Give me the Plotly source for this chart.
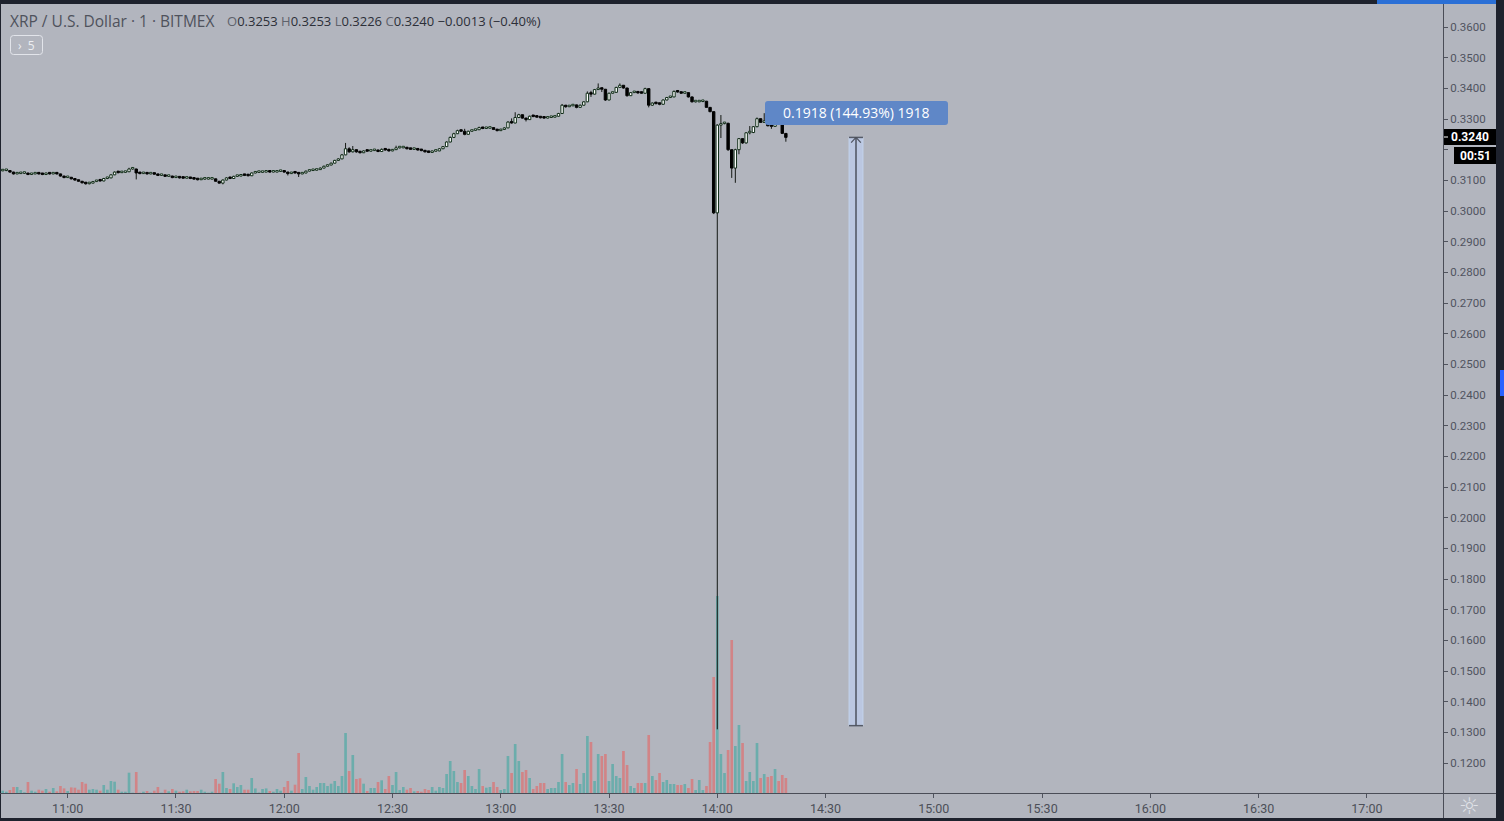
import plotly.graph_objects as go
import pandas as pd

# ---------------- data (1-minute XRP/USD candles, BITMEX) ----------------
opens = [
0.3130,0.3131,0.3132,0.3132,0.3127,0.3121,0.3122,0.3123,0.3123,0.3119,
0.3121,0.3122,0.3121,0.3119,0.3122,0.3121,0.3123,0.3121,0.3114,0.3109,
0.3110,0.3105,0.3101,0.3097,0.3092,0.3089,0.3091,0.3096,0.3099,0.3098,
0.3106,0.3108,0.3118,0.3127,0.3125,0.3126,0.3128,0.3137,0.3137,0.3124,
0.3122,0.3123,0.3121,0.3122,0.3120,0.3116,0.3117,0.3113,0.3114,0.3109,
0.3110,0.3108,0.3107,0.3109,0.3106,0.3104,0.3102,0.3104,0.3104,0.3104,
0.3105,0.3097,0.3091,0.3101,0.3108,0.3106,0.3113,0.3114,0.3118,0.3116,
0.3115,0.3124,0.3126,0.3126,0.3127,0.3129,0.3127,0.3127,0.3129,0.3130,
0.3127,0.3122,0.3125,0.3124,0.3121,0.3124,0.3130,0.3132,0.3133,0.3135,
0.3140,0.3146,0.3150,0.3156,0.3165,0.3170,0.3183,0.3203,0.3193,0.3200,
0.3193,0.3190,0.3196,0.3195,0.3197,0.3199,0.3194,0.3201,0.3199,0.3196,
0.3200,0.3206,0.3206,0.3207,0.3203,0.3201,0.3201,0.3199,0.3197,0.3193,
0.3191,0.3195,0.3196,0.3203,0.3210,0.3225,0.3240,0.3252,0.3262,0.3260,
0.3250,0.3260,0.3263,0.3265,0.3272,0.3269,0.3270,0.3272,0.3266,0.3262,
0.3266,0.3271,0.3290,0.3287,0.3305,0.3314,0.3303,0.3298,0.3309,0.3308,
0.3306,0.3304,0.3303,0.3305,0.3306,0.3309,0.3318,0.3345,0.3340,0.3343,
0.3346,0.3338,0.3345,0.3356,0.3384,0.3381,0.3396,0.3400,0.3397,0.3362,
0.3384,0.3387,0.3403,0.3410,0.3401,0.3376,0.3386,0.3388,0.3385,0.3384,
0.3399,0.3345,0.3352,0.3350,0.3348,0.3362,0.3370,0.3372,0.3390,0.3388,
0.3384,0.3386,0.3372,0.3356,0.3356,0.3357,0.3358,0.3338,0.3324,0.2994,
0.3280,0.3285,0.3286,0.3200,0.3140,0.3200,0.3236,0.3222,0.3255,0.3256,
0.3275,0.3301,0.3289,0.3294,0.3278,0.3276,0.3297,0.3290,0.3253]

highs = [
0.3133,0.3134,0.3134,0.3133,0.3128,0.3124,0.3125,0.3124,0.3124,0.3123,
0.3124,0.3123,0.3122,0.3125,0.3123,0.3126,0.3124,0.3122,0.3115,0.3112,
0.3111,0.3106,0.3102,0.3098,0.3093,0.3093,0.3098,0.3101,0.3100,0.3108,
0.3110,0.3120,0.3129,0.3128,0.3128,0.3130,0.3141,0.3139,0.3138,0.3125,
0.3125,0.3124,0.3124,0.3123,0.3121,0.3119,0.3118,0.3116,0.3115,0.3112,
0.3111,0.3109,0.3111,0.3110,0.3107,0.3105,0.3106,0.3105,0.3106,0.3107,
0.3106,0.3098,0.3103,0.3110,0.3109,0.3115,0.3116,0.3120,0.3119,0.3117,
0.3126,0.3128,0.3128,0.3129,0.3131,0.3130,0.3129,0.3131,0.3132,0.3131,
0.3128,0.3127,0.3126,0.3126,0.3126,0.3132,0.3134,0.3135,0.3137,0.3142,
0.3148,0.3152,0.3158,0.3167,0.3172,0.3186,0.3222,0.3208,0.3212,0.3201,
0.3195,0.3198,0.3197,0.3199,0.3201,0.3200,0.3204,0.3202,0.3203,0.3202,
0.3213,0.3208,0.3209,0.3208,0.3204,0.3203,0.3202,0.3200,0.3198,0.3194,
0.3197,0.3198,0.3205,0.3212,0.3227,0.3243,0.3255,0.3265,0.3264,0.3268,
0.3262,0.3265,0.3267,0.3275,0.3273,0.3272,0.3274,0.3273,0.3267,0.3268,
0.3273,0.3293,0.3302,0.3322,0.3317,0.3315,0.3304,0.3311,0.3311,0.3309,
0.3307,0.3305,0.3307,0.3308,0.3311,0.3320,0.3349,0.3346,0.3345,0.3348,
0.3347,0.3347,0.3358,0.3390,0.3392,0.3398,0.3416,0.3402,0.3398,0.3386,
0.3389,0.3405,0.3416,0.3411,0.3402,0.3388,0.3390,0.3389,0.3386,0.3402,
0.3400,0.3354,0.3353,0.3351,0.3364,0.3372,0.3374,0.3393,0.3391,0.3389,
0.3388,0.3387,0.3373,0.3358,0.3359,0.3360,0.3359,0.3339,0.3326,0.3283,
0.3313,0.3288,0.3288,0.3202,0.3203,0.3238,0.3238,0.3257,0.3277,0.3277,
0.3305,0.3302,0.3319,0.3296,0.3279,0.3299,0.3298,0.3291,0.3253]

lows = [
0.3128,0.3130,0.3130,0.3125,0.3119,0.3120,0.3121,0.3121,0.3117,0.3118,
0.3120,0.3119,0.3117,0.3118,0.3119,0.3120,0.3119,0.3112,0.3107,0.3108,
0.3103,0.3099,0.3095,0.3090,0.3086,0.3087,0.3090,0.3095,0.3096,0.3097,
0.3104,0.3107,0.3117,0.3123,0.3124,0.3125,0.3127,0.3135,0.3103,0.3120,
0.3121,0.3119,0.3120,0.3118,0.3114,0.3115,0.3111,0.3112,0.3107,0.3108,
0.3106,0.3105,0.3106,0.3104,0.3102,0.3100,0.3101,0.3102,0.3103,0.3103,
0.3095,0.3089,0.3087,0.3100,0.3104,0.3105,0.3111,0.3113,0.3114,0.3113,
0.3114,0.3123,0.3124,0.3125,0.3126,0.3125,0.3126,0.3126,0.3128,0.3125,
0.3116,0.3121,0.3122,0.3111,0.3120,0.3123,0.3129,0.3131,0.3132,0.3134,
0.3139,0.3145,0.3149,0.3155,0.3164,0.3169,0.3182,0.3190,0.3191,0.3190,
0.3188,0.3189,0.3193,0.3194,0.3196,0.3192,0.3193,0.3197,0.3194,0.3195,
0.3199,0.3204,0.3205,0.3201,0.3199,0.3200,0.3197,0.3195,0.3191,0.3189,
0.3190,0.3194,0.3195,0.3202,0.3209,0.3224,0.3238,0.3251,0.3258,0.3247,
0.3249,0.3259,0.3262,0.3264,0.3267,0.3268,0.3269,0.3264,0.3260,0.3261,
0.3265,0.3270,0.3285,0.3286,0.3303,0.3301,0.3292,0.3297,0.3306,0.3304,
0.3302,0.3301,0.3302,0.3304,0.3305,0.3308,0.3317,0.3337,0.3339,0.3342,
0.3335,0.3337,0.3344,0.3355,0.3372,0.3380,0.3395,0.3388,0.3359,0.3361,
0.3383,0.3386,0.3402,0.3399,0.3373,0.3375,0.3385,0.3383,0.3382,0.3383,
0.3338,0.3343,0.3348,0.3345,0.3347,0.3361,0.3369,0.3371,0.3386,0.3382,
0.3383,0.3370,0.3354,0.3354,0.3355,0.3355,0.3336,0.3322,0.2990,0.1310,
0.3238,0.3283,0.3196,0.3108,0.3092,0.3185,0.3219,0.3220,0.3250,0.3254,
0.3273,0.3287,0.3288,0.3276,0.3268,0.3275,0.3288,0.3251,0.3226]

closes = [
0.3131,0.3132,0.3132,0.3127,0.3121,0.3122,0.3123,0.3123,0.3119,0.3121,
0.3122,0.3121,0.3119,0.3122,0.3121,0.3123,0.3121,0.3114,0.3109,0.3110,
0.3105,0.3101,0.3097,0.3092,0.3089,0.3091,0.3096,0.3099,0.3098,0.3106,
0.3108,0.3118,0.3127,0.3125,0.3126,0.3128,0.3137,0.3137,0.3124,0.3122,
0.3123,0.3121,0.3122,0.3120,0.3116,0.3117,0.3113,0.3114,0.3109,0.3110,
0.3108,0.3107,0.3109,0.3106,0.3104,0.3102,0.3104,0.3104,0.3104,0.3105,
0.3097,0.3091,0.3101,0.3108,0.3106,0.3113,0.3114,0.3118,0.3116,0.3115,
0.3124,0.3126,0.3126,0.3127,0.3129,0.3127,0.3127,0.3129,0.3130,0.3127,
0.3122,0.3125,0.3124,0.3121,0.3124,0.3130,0.3132,0.3133,0.3135,0.3140,
0.3146,0.3150,0.3156,0.3165,0.3170,0.3183,0.3203,0.3193,0.3200,0.3193,
0.3190,0.3196,0.3195,0.3197,0.3199,0.3194,0.3201,0.3199,0.3196,0.3200,
0.3206,0.3206,0.3207,0.3203,0.3201,0.3201,0.3199,0.3197,0.3193,0.3191,
0.3195,0.3196,0.3203,0.3210,0.3225,0.3240,0.3252,0.3262,0.3260,0.3250,
0.3260,0.3263,0.3265,0.3272,0.3269,0.3270,0.3272,0.3266,0.3262,0.3266,
0.3271,0.3290,0.3287,0.3305,0.3314,0.3303,0.3298,0.3309,0.3308,0.3306,
0.3304,0.3303,0.3305,0.3306,0.3309,0.3318,0.3345,0.3340,0.3343,0.3346,
0.3338,0.3345,0.3356,0.3384,0.3381,0.3396,0.3400,0.3397,0.3362,0.3384,
0.3387,0.3403,0.3410,0.3401,0.3376,0.3386,0.3388,0.3385,0.3384,0.3399,
0.3345,0.3352,0.3350,0.3348,0.3362,0.3370,0.3372,0.3390,0.3388,0.3384,
0.3386,0.3372,0.3356,0.3356,0.3357,0.3358,0.3338,0.3324,0.2994,0.3280,
0.3285,0.3286,0.3200,0.3140,0.3200,0.3236,0.3222,0.3255,0.3256,0.3275,
0.3301,0.3289,0.3294,0.3278,0.3276,0.3297,0.3290,0.3253,0.3240]

volumes = [
1,2.3,1.3,3,6,6,3,0.7,11,2.3,
1.3,3.3,2.3,4,1.3,5,1.7,7,4.6,2,
5.6,5.3,3.3,11,9.3,3.3,4,3.3,2.3,8,
3.3,12,11.3,3.3,1.3,1.3,20.3,0.3,21,0.3,
1.3,2,0.3,2.3,6,0.3,3.3,1.7,4,2.3,
1.3,1.7,3.3,1.7,2,2,3.3,1.3,0.3,1.3,
14,9.3,21,5,4,9.7,6,8,3.3,3.3,
15,4.6,0.5,4,4.6,2,1.3,4,2.3,6,
12,2.3,8.3,40,4,16,7,3.3,6,10,
10,7,9.3,12,7,17,60,22,38,14,
14.7,9.3,2,5,5,11,12.7,4,17,8,
21,3,6,3.3,5,1.7,2,1.3,4,3,
6,2.3,6,5,19,32,22,11,10,23,
17,7,4,24,7,5.3,6,11,6,3,
4,37,20,49,32,21,23,15,4,7,
10,10,4,5,5,11,39,11,8,10,
24,9,20,57,51,12,39,37,39,12,
29,17,15,42,28,7,5,10,10,10,
58,17,13,20,11,13,9,9,8,8,
9,5,14,3,13,3,7,51,116,197,
39,20,43,153,47,68,50,12,21,12,
50,15,19,16,17,24,12,18,15]

time_tick_labels = ["11:00", "11:30", "12:00", "12:30", "13:00", "13:30",
                    "14:00", "14:30", "15:00", "15:30", "16:00", "16:30", "17:00"]
price_ticks = [0.12, 0.13, 0.14, 0.15, 0.16, 0.17, 0.18, 0.19, 0.20, 0.21, 0.22, 0.23,
               0.24, 0.25, 0.26, 0.27, 0.28, 0.29, 0.30, 0.31, 0.32, 0.33, 0.34, 0.35, 0.36]
hidden_tick = 0.32   # covered by the countdown label in the reference

last_price = 0.3240
measure_low = 0.1322
measure_text = "0.1918 (144.93%) 1918"

# ---------------- build ----------------
DAY = "2019-07-15"
start = pd.Timestamp(DAY + " 10:41")
times = pd.date_range(start, periods=len(closes), freq="min")

UP_FILL, UP_LINE = "#ffffff", "#12301a"
DN_FILL, DN_LINE = "#000000", "#000000"
VOL_UP, VOL_DN = "rgba(38,166,154,0.5)", "rgba(239,83,80,0.5)"

is_up = [c >= o for o, c in zip(opens, closes)]
bases = [min(o, c) for o, c in zip(opens, closes)]
heights = [max(abs(c - o), 0.0005) for o, c in zip(opens, closes)]
tops = [b + h for b, h in zip(bases, heights)]

wx, wy = [], []
for t, hi, lo, b, tp in zip(times, highs, lows, bases, tops):
    if hi > tp:
        wx += [t, t, None]; wy += [tp, hi, None]
    if lo < b:
        wx += [t, t, None]; wy += [lo, b, None]

fig = go.Figure()
fig.add_trace(go.Bar(x=times, y=volumes, width=44000, yaxis="y",
                     marker=dict(color=[VOL_UP if u else VOL_DN for u in is_up], line=dict(width=0))))
fig.add_trace(go.Bar(x=times, y=heights, base=bases, width=40000, yaxis="y2",
                     marker=dict(color=[UP_FILL if u else DN_FILL for u in is_up],
                                 line=dict(color=[UP_LINE if u else DN_LINE for u in is_up], width=1))))
fig.add_trace(go.Scatter(x=wx, y=wy, mode="lines", yaxis="y2", connectgaps=False,
                         line=dict(color="#141814", width=1)))

PLOT_W, PLOT_TOP, PLOT_BOT = 1443, 5, 793
def PX(x): return x / PLOT_W
def PY(y): return (PLOT_BOT - y) / (PLOT_BOT - PLOT_TOP)

def rrect(x0, y0, x1, y1, r):
    return (f"M {PX(x0+r)},{PY(y0)} L {PX(x1-r)},{PY(y0)} Q {PX(x1)},{PY(y0)} {PX(x1)},{PY(y0+r)} "
            f"L {PX(x1)},{PY(y1-r)} Q {PX(x1)},{PY(y1)} {PX(x1-r)},{PY(y1)} "
            f"L {PX(x0+r)},{PY(y1)} Q {PX(x0)},{PY(y1)} {PX(x0)},{PY(y1-r)} "
            f"L {PX(x0)},{PY(y0+r)} Q {PX(x0)},{PY(y0)} {PX(x0+r)},{PY(y0)} Z")

DARK = "#1e222d"
AXC = "#4a4d57"
shapes = []
def prect(x0, y0, x1, y1, color):
    shapes.append(dict(type="rect", xref="paper", yref="paper", x0=PX(x0), x1=PX(x1),
                       y0=PY(y0), y1=PY(y1), fillcolor=color, line=dict(width=0), layer="above"))
def pline(x0, y0, x1, y1, color, w=1):
    shapes.append(dict(type="line", xref="paper", yref="paper", x0=PX(x0), x1=PX(x1),
                       y0=PY(y0), y1=PY(y1), line=dict(color=color, width=w), layer="above"))

# frame strips
prect(0, 0, 1504, 4, DARK)
prect(1377, 0, 1496, 4, "#2a6fd6")
prect(1496, 0, 1504, 821, DARK)
prect(1500, 370, 1504, 396, "#2962ff")
prect(0, 818, 1504, 821, DARK)
prect(0, 0, 1, 821, DARK)
# axis lines
pline(1443.5, 4, 1443.5, 818, AXC)
pline(0, 793.5, 1496, 793.5, AXC)

# measurement tool (data coords)
m_x0 = pd.Timestamp(DAY + " 14:36:30")
m_x1 = pd.Timestamp(DAY + " 14:40:22")
m_xc = pd.Timestamp(DAY + " 14:38:26")
shapes.append(dict(type="rect", xref="x", yref="y2", x0=m_x0, x1=m_x1, y0=measure_low, y1=last_price,
                   fillcolor="rgba(190,207,238,0.72)", line=dict(color="rgba(196,212,240,0.9)", width=1),
                   layer="above"))
for ya in (last_price, measure_low):
    shapes.append(dict(type="line", xref="x", yref="y2", x0=m_x0, x1=m_x1, y0=ya, y1=ya,
                       line=dict(color="#555a66", width=1.5), layer="above"))
shapes.append(dict(type="line", xref="x", yref="y2", x0=m_xc, x1=m_xc, y0=measure_low, y1=last_price,
                   line=dict(color="#4d525e", width=1.5), layer="above"))
for dx in (-80, 80):
    shapes.append(dict(type="line", xref="x", yref="y2", x0=m_xc + pd.Timedelta(seconds=dx), x1=m_xc,
                       y0=last_price - 0.0017, y1=last_price, line=dict(color="#4d525e", width=1.2),
                       layer="above"))
# measurement label box
shapes.append(dict(type="path", xref="paper", yref="paper", path=rrect(765, 101, 948, 125, 3),
                   fillcolor="#5f87c7", line=dict(width=0), layer="above"))
# interval button
shapes.append(dict(type="path", xref="paper", yref="paper", path=rrect(10.5, 35.5, 42.5, 54.5, 3),
                   fillcolor="rgba(0,0,0,0)", line=dict(color="#e2e4ea", width=1), layer="above"))
# price / countdown labels
prect(1444, 129, 1496, 145, "#000000")
prect(1454, 147, 1496, 164, "#000000")
pline(1444, 137, 1448, 137, "#ffffff", 1)

ann = []
def note(x, y, text, size, color, anchor="left", family="Open Sans"):
    ann.append(dict(xref="paper", yref="paper", x=PX(x), y=PY(y), text=text, showarrow=False,
                    xanchor=anchor, yanchor="middle", font=dict(size=size, color=color, family=family)))

note(8, 21, "XRP / U.S. Dollar · 1 · BITMEX", 15.5, "#4f525c")
L = "<span style='color:#5f626c'>%s</span>"
ohlc = (L % "O" + "0.3253 " + L % "H" + "0.3253 " + L % "L" + "0.3226 " + L % "C" + "0.3240 "
        + "−0.0013 (−0.40%)")
note(225, 21, ohlc, 13, "#2c2f38")
note(26, 45, "›  5", 12, "#eceef2", anchor="center")
note(1470, 137, "<b>0.3240</b>", 12, "#ffffff", anchor="center", family="Roboto")
note(1475, 156, "<b>00:51</b>", 12, "#ffffff", anchor="center", family="Roboto")
note(856.5, 113, measure_text, 14, "#ffffff", anchor="center")
note(1469, 806, "☼", 23, "#dfe1e6", anchor="center", family="DejaVu Sans")

x_start = pd.Timestamp(DAY + " 10:41:15")
x_end = pd.Timestamp(DAY + " 17:21:05")
tickvals_t = [pd.Timestamp(DAY + " " + s) for s in time_tick_labels]

fig.update_layout(
    width=1504, height=821, margin=dict(l=0, r=61, t=5, b=28),
    paper_bgcolor="#b2b5be", plot_bgcolor="#b2b5be",
    showlegend=False, barmode="overlay", hovermode=False,
    font=dict(family="Roboto", color="#50535e"),
    shapes=shapes, annotations=ann,
    xaxis=dict(type="date", range=[x_start, x_end], tickvals=tickvals_t, ticktext=time_tick_labels,
               ticks="outside", ticklen=4, tickcolor="#50535e", tickfont=dict(size=12.5, color="#4c4f58"),
               showgrid=False, zeroline=False, showline=False, fixedrange=True),
    yaxis=dict(range=[0, 788], visible=False, fixedrange=True),
    yaxis2=dict(overlaying="y", side="right", range=[0.110245, 0.367173],
                tickvals=price_ticks,
                ticktext=["" if abs(v - hidden_tick) < 1e-9 else f"{v:.4f}" for v in price_ticks],
                ticks="outside", ticklen=4, tickcolor="#50535e",
                tickfont=dict(size=11.5, color="#50535e"),
                showgrid=False, zeroline=False, showline=False, fixedrange=True),
)

fig.write_html("out.html", config={"displayModeBar": False},
               post_script="document.body.style.margin='0';document.body.style.overflow='hidden';"
                           "document.documentElement.style.overflow='hidden';")
